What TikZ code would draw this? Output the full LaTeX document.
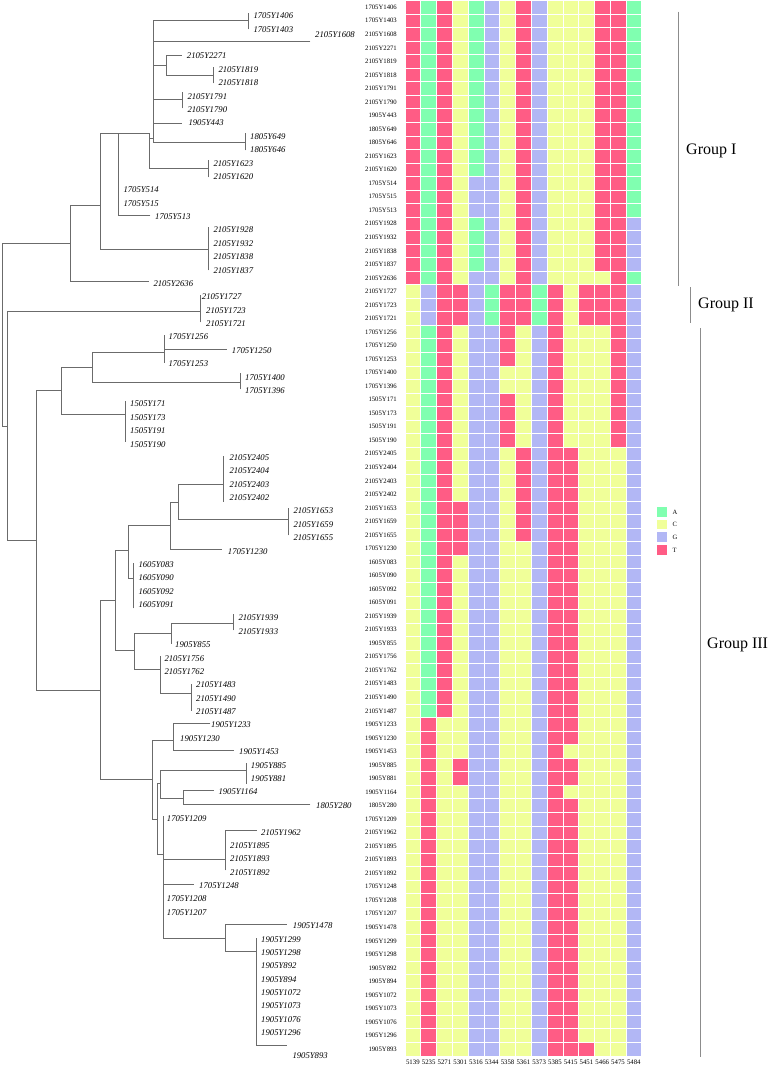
\documentclass[tikz,border=0pt]{standalone}
\usepackage{fontspec}
\setmainfont{Liberation Serif}
\usepackage{xstring}
\definecolor{colA}{RGB}{128,255,176}
\definecolor{colC}{RGB}{240,255,153}
\definecolor{colG}{RGB}{178,183,245}
\definecolor{colT}{RGB}{255,92,133}
\definecolor{grpline}{RGB}{140,140,140}
\begin{document}
\begin{tikzpicture}[x=1pt,y=-1pt,
  br/.style={draw=black!58, line width=0.7pt, line cap=rect},
  tl/.style={anchor=west, inner sep=0pt, font=\fontsize{8.7}{9}\selectfont\itshape},
  rl/.style={anchor=east, inner sep=0pt, font=\fontsize{6.7}{7}\selectfont},
  cl/.style={inner sep=0pt, font=\fontsize{6.8}{7}\selectfont},
  grp/.style={draw=grpline, line width=1pt},
  grptext/.style={anchor=west, inner sep=0pt, font=\fontsize{16}{18}\selectfont}]
\useasboundingbox[fill=white] (0,0) rectangle (770,1068);

% ---------------- tree ----------------
\draw[br]
 (2,243.3)--(2,426)
 (2,243.3)--(70,243.3)
 (70,205.7)--(70,281)
 (70,281)--(148.3,281)
 (70,205.7)--(100.7,205.7)
 (100.7,133.3)--(100.7,249.3)
 (100.7,249.3)--(208.3,249.3)
 (208.3,227)--(208.3,270)
 (100.7,133.3)--(149,133.3)
 (118.3,133.3)--(118.3,215.5)
 (118.3,215.5)--(150,215.5)
 (149,133.3)--(149,168.3)
 (149,168.3)--(208.3,168.3)
 (208.3,160.5)--(208.3,177)
 (149,138)--(153,138)
 (153,20)--(153,142)
 (153,20)--(248.3,20)
 (248.3,13.5)--(248.3,29)
 (153,41)--(310,41)
 (153,65)--(166.7,65)
 (166.7,55.5)--(166.7,75)
 (166.7,55.5)--(181.7,55.5)
 (166.7,75)--(213.3,75)
 (213.3,67)--(213.3,83)
 (153,99)--(182.7,99)
 (182.7,92)--(182.7,108)
 (153,123)--(181.7,123)
 (153,142)--(245,142)
 (245,133.5)--(245,150)
 % group II
 (2,426)--(7.3,426)
 (7.3,311.7)--(7.3,540)
 (7.3,311.7)--(200,311.7)
 (200,295)--(200,322)
 % group III
 (7.3,540)--(36,540)
 (36,390.7)--(36,690)
 (36,390.7)--(61.7,390.7)
 (61.7,367.7)--(61.7,414.3)
 (61.7,367.7)--(92.3,367.7)
 (92.3,352.3)--(92.3,382.3)
 (92.3,352.3)--(164,352.3)
 (164,335.7)--(164,362.3)
 (164,349)--(226.7,349)
 (92.3,382.3)--(240.7,382.3)
 (240.7,373.3)--(240.7,389)
 (61.7,414.3)--(125,414.3)
 (125,401.7)--(125,441.7)
 (36,690)--(100,690)
 (100,600)--(100,779.3)
 (100,600)--(115,600)
 (115,550)--(115,650.7)
 (115,550)--(128.3,550)
 (128.3,525)--(128.3,578)
 (128.3,525)--(170,525)
 (170,502.3)--(170,549.3)
 (170,502.3)--(178.7,502.3)
 (178.7,484.3)--(178.7,519)
 (178.7,484.3)--(223.3,484.3)
 (223.3,456)--(223.3,501.7)
 (178.7,519)--(288.3,519)
 (288.3,508.3)--(288.3,535)
 (170,549.3)--(221.7,549.3)
 (128.3,578)--(133.3,578)
 (133.3,563)--(133.3,608)
 (115,650.7)--(134.3,650.7)
 (134.3,633.3)--(134.3,669.3)
 (134.3,633.3)--(171,633.3)
 (171,623.3)--(171,643.3)
 (171,623.3)--(233.3,623.3)
 (233.3,614)--(233.3,630)
 (134.3,669.3)--(160.7,669.3)
 (160.7,656.7)--(160.7,693.3)
 (160.7,693.3)--(191.7,693.3)
 (191.7,684)--(191.7,710.7)
 (100,779.3)--(152.7,779.3)
 (152.7,740.7)--(152.7,819.3)
 (152.7,740.7)--(173.3,740.7)
 (173.3,723.3)--(173.3,750)
 (173.3,723.3)--(210,723.3)
 (173.3,750)--(233.3,750)
 (152.7,819.3)--(157.3,819.3)
 (157.3,783.3)--(157.3,854.3)
 (157.3,783.3)--(160.7,783.3)
 (160.7,770)--(160.7,798.3)
 (160.7,770)--(246,770)
 (246,763.3)--(246,783.3)
 (160.7,798.3)--(183.3,798.3)
 (183.3,790.7)--(183.3,804.3)
 (183.3,790.7)--(213.3,790.7)
 (183.3,804.3)--(310,804.3)
 (157.3,854.3)--(163.3,854.3)
 (163.3,816.7)--(163.3,938.3)
 (163.3,859.3)--(225.7,859.3)
 (225.7,830.7)--(225.7,870)
 (225.7,830.7)--(256.7,830.7)
 (163.3,884.3)--(193.3,884.3)
 (163.3,938.3)--(225.7,938.3)
 (225.7,924.3)--(225.7,951)
 (225.7,924.3)--(286.7,924.3)
 (225.7,951)--(256.3,951)
 (256.3,938.3)--(256.3,1045.7)
 (256.3,1045.7)--(286.7,1045.7);

% tree labels (x / row index / text); row y = 16 + (row-1)*13.38
\foreach \x/\m/\t [count=\k] in {
 253.3/1/1705Y1406, 253.3/2/1705Y1403, 315/2.42/2105Y1608, 186.7/4/2105Y2271,
 218.3/5/2105Y1819, 218.3/6/2105Y1818, 187.3/7/2105Y1791, 187.3/8/2105Y1790,
 188.3/9/1905Y443, 250/10/1805Y649, 250/11/1805Y646, 213.3/12/2105Y1623,
 213.3/13/2105Y1620, 123.3/14/1705Y514, 123.3/15/1705Y515, 155/16/1705Y513,
 213.3/17/2105Y1928, 213.3/18/2105Y1932, 213.3/19/2105Y1838, 213.3/20/2105Y1837,
 153.3/21/2105Y2636, 201.7/22/2105Y1727, 206/23/2105Y1723, 206/24/2105Y1721,
 168.3/25/1705Y1256, 231.7/26/1705Y1250, 168.3/27/1705Y1253, 245/28/1705Y1400,
 245/29/1705Y1396, 130/30/1505Y171, 130/31/1505Y173, 130/32/1505Y191,
 130/33/1505Y190, 229.3/34/2105Y2405, 229.3/35/2105Y2404, 229.3/36/2105Y2403,
 229.3/37/2105Y2402, 293.3/38/2105Y1653, 293.3/39/2105Y1659, 293.3/40/2105Y1655,
 227.7/41/1705Y1230, 138.3/42/1605Y083, 138.3/43/1605Y090, 138.3/44/1605Y092,
 138.3/45/1605Y091, 238.3/46/2105Y1939, 238.3/47/2105Y1933, 175/48/1905Y855,
 164.3/49/2105Y1756, 164.3/50/2105Y1762, 196/51/2105Y1483, 196/52/2105Y1490,
 196/53/2105Y1487, 211/54/1905Y1233, 180/55/1905Y1230, 239/56/1905Y1453,
 250.7/57/1905Y885, 250.7/58/1905Y881, 218.3/59/1905Y1164, 316/60/1805Y280,
 166.7/61/1705Y1209, 261/62/2105Y1962, 230/63/2105Y1895, 230/64/2105Y1893,
 230/65/2105Y1892, 199/66/1705Y1248, 166.7/67/1705Y1208, 166.7/68/1705Y1207,
 292.7/69/1905Y1478, 261/70/1905Y1299, 261/71/1905Y1298, 261/72/1905Y892,
 261/73/1905Y894, 261/74/1905Y1072, 261/75/1905Y1073, 261/76/1905Y1076,
 261/77/1905Y1296, 292.3/78.73/1905Y893}
 { \node[tl] (tip\k) at ({\x},{16+(\m-1)*13.38}) {\t}; }

% ---------------- heatmap ----------------
\foreach \lab/\seq [count=\i] in {
 1705Y1406/TATCAGCTGCCCTTA, 1705Y1403/TATCAGCTGCCCTTA, 2105Y1608/TATCAGCTGCCCTTA,
 2105Y2271/TATCAGCTGCCCTTA, 2105Y1819/TATCAGCTGCCCTTA, 2105Y1818/TATCAGCTGCCCTTA,
 2105Y1791/TATCAGCTGCCCTTA, 2105Y1790/TATCAGCTGCCCTTA, 1905Y443/TATCAGCTGCCCTTA,
 1805Y649/TATCAGCTGCCCTTA, 1805Y646/TATCAGCTGCCCTTA, 2105Y1623/TATCAGCTGCCCTTA,
 2105Y1620/TATCAGCTGCCCTTA, 1705Y514/TATCGGCTGCCCTTA, 1705Y515/TATCGGCTGCCCTTA,
 1705Y513/TATCGGCTGCCCTTA, 2105Y1928/TATCAGCTGCCCTTG, 2105Y1932/TATCAGCTGCCCTTG,
 2105Y1838/TATCAGCTGCCCTTG, 2105Y1837/TATCAGCTGCCCTTG, 2105Y2636/TATCGGCTGCCCCTA,
 2105Y1727/CGTTGATTATCTTTG, 2105Y1723/CGTTGATTATCTTTG, 2105Y1721/CGTTGATTATCTTTG,
 1705Y1256/CATCGGTCGTCCCTG, 1705Y1250/CATCGGTCGTCCCTG, 1705Y1253/CATCGGTCGTCCCTG,
 1705Y1400/CATCGGCCGTCCCTG, 1705Y1396/CATCGGCCGTCCCTG, 1505Y171/CATCGGTCGTCCCTG,
 1505Y173/CATCGGTCGTCCCTG, 1505Y191/CATCGGTCGTCCCTG, 1505Y190/CATCGGTCGTCCCTG,
 2105Y2405/CATCGGCTGTTCCCG, 2105Y2404/CATCGGCTGTTCCCG, 2105Y2403/CATCGGCTGTTCCCG,
 2105Y2402/CATCGGCTGTTCCCG, 2105Y1653/CATTGGCTGTTCCCG, 2105Y1659/CATTGGCTGTTCCCG,
 2105Y1655/CATTGGCTGTTCCCG, 1705Y1230/CATTGGCCGTTCCCG, 1605Y083/CATCGGCCGTTCCCG,
 1605Y090/CATCGGCCGTTCCCG, 1605Y092/CATCGGCCGTTCCCG, 1605Y091/CATCGGCCGTTCCCG,
 2105Y1939/CATCGGCCGTTCCCG, 2105Y1933/CATCGGCCGTTCCCG, 1905Y855/CATCGGCCGTTCCCG,
 2105Y1756/CATCGGCCGTTCCCG, 2105Y1762/CATCGGCCGTTCCCG, 2105Y1483/CATCGGCCGTTCCCG,
 2105Y1490/CATCGGCCGTTCCCG, 2105Y1487/CATCGGCCGTTCCCG, 1905Y1233/CTCCGGCCGTTCCCG,
 1905Y1230/CTCCGGCCGTTCCCG, 1905Y1453/CTCCGGCCGTCCCCG, 1905Y885/CTCTGGCCGTTCCCG,
 1905Y881/CTCTGGCCGTTCCCG, 1905Y1164/CTCCGGCCGTCCCCG, 1805Y280/CTCCGGCCGTTCCCG,
 1705Y1209/CTCCGGCCGTTCCCG, 2105Y1962/CTCCGGCCGTTCCCG, 2105Y1895/CTCCGGCCGTTCCCG,
 2105Y1893/CTCCGGCCGTTCCCG, 2105Y1892/CTCCGGCCGTTCCCG, 1705Y1248/CTCCGGCCGTTCCCG,
 1705Y1208/CTCCGGCCGTTCCCG, 1705Y1207/CTCCGGCCGTTCCCG, 1905Y1478/CTCCGGCCGTTCCCG,
 1905Y1299/CTCCGGCCGTTCCCG, 1905Y1298/CTCCGGCCGTTCCCG, 1905Y892/CTCCGGCCGTTCCCG,
 1905Y894/CTCCGGCCGTTCCCG, 1905Y1072/CTCCGGCCGTTCCCG, 1905Y1073/CTCCGGCCGTTCCCG,
 1905Y1076/CTCCGGCCGTTCCCG, 1905Y1296/CTCCGGCCGTTCCCG, 1905Y893/CTCCGGCCGTTTCCG}
{
  \node[rl] (row\i) at (397,{7.265+(\i-1)*13.53}) {\lab};
  \foreach \j in {1,...,15}{
    \StrChar{\seq}{\j}[\ch]
    \edef\cname{col\ch}
    \filldraw[fill=\cname, draw=white, line width=0.6pt]
      ({405+(\j-1)*15.78},{0.5+(\i-1)*13.53}) rectangle ++(15.78,13.53);
  }
}

% column labels
\foreach \c [count=\j] in {5139,5235,5271,5301,5316,5344,5358,5361,5373,5385,5415,5451,5466,5475,5484}
  { \node[cl] (col\j) at ({405+(\j-0.5)*15.78},1062.5) {\c}; }

% legend
\foreach \c/\y in {A/507,C/519.7,G/532.4,T/545.1}
{
  \fill[col\c] (657,\y) rectangle ++(10,9.5);
  \node[anchor=west, inner sep=0pt, font=\fontsize{6.5}{7}\selectfont] (leg\c) at (672.5,{\y+4.9}) {\c};
}

% groups
\draw[grp] (678.3,11.7)--(678.3,286);
\draw[grp] (690.7,287)--(690.7,323);
\draw[grp] (700,328)--(700,1057);
\node[grptext] (g1) at (686,150.7) {Group I};
\node[grptext] (g2) at (698,305) {Group II};
\node[grptext] (g3) at (707,645) {Group III};
\end{tikzpicture}
\end{document}
